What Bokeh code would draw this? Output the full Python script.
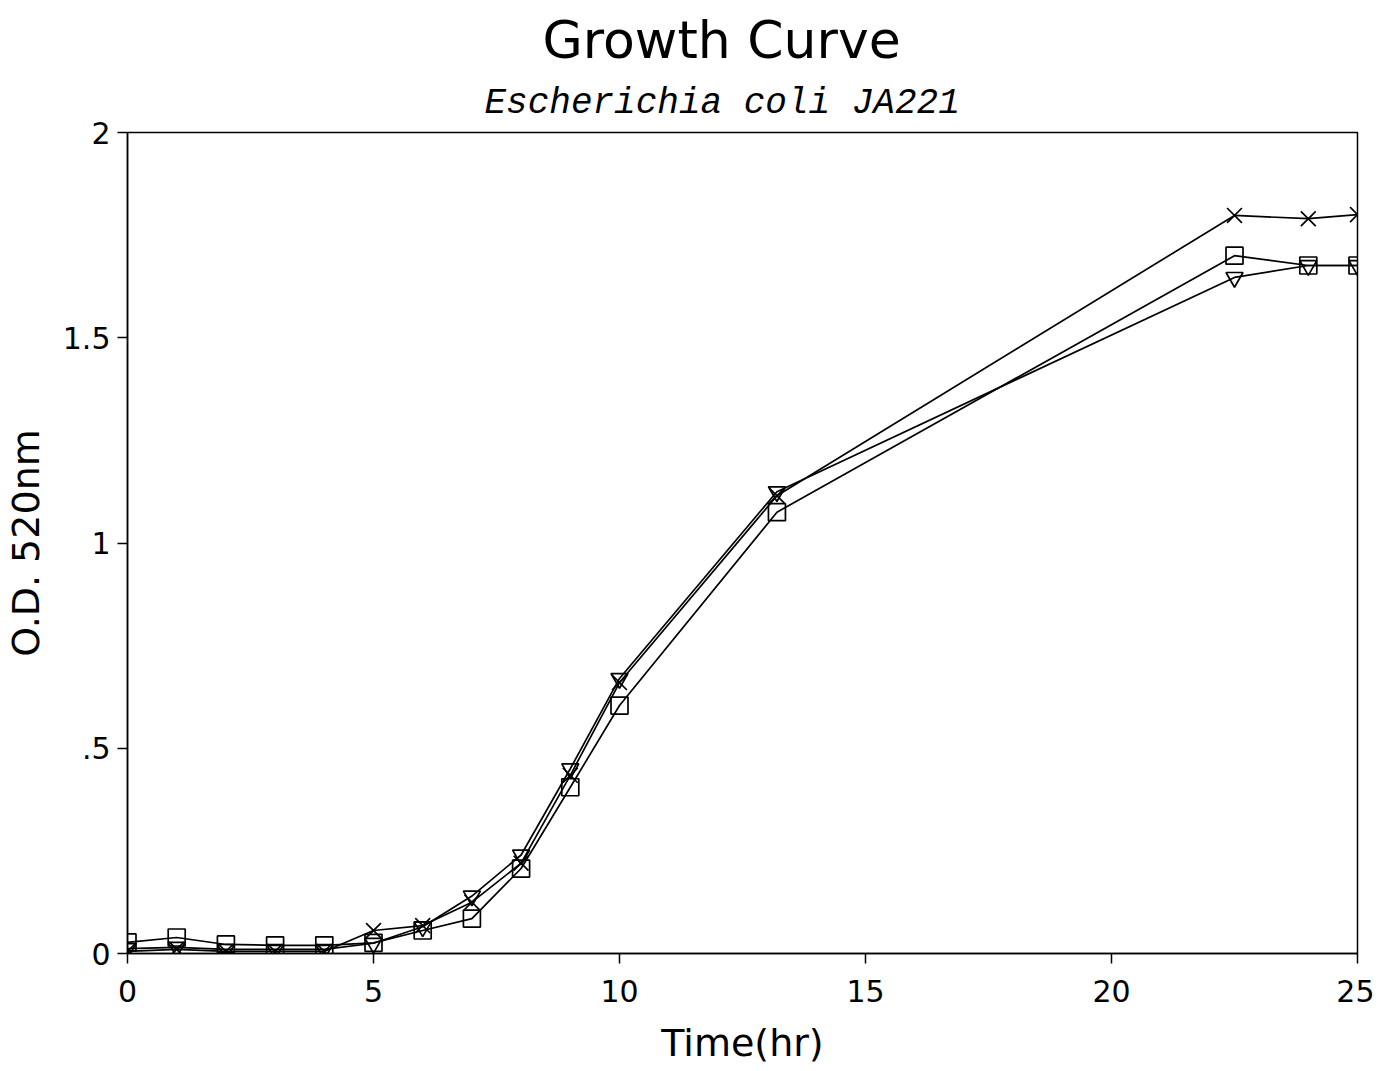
from bokeh.plotting import figure
from bokeh.models import FixedTicker, Title, Range1d
from bokeh.embed import file_html
from bokeh.resources import INLINE

time_hr = [0, 1, 2, 3, 4, 5, 6, 7, 8, 9, 10, 13.2, 22.5, 24, 25]
od_square = [0.027, 0.039, 0.022, 0.020, 0.020, 0.026, 0.056, 0.085, 0.207, 0.405, 0.604, 1.075, 1.700, 1.676, 1.676]
od_triangle = [0.012, 0.015, 0.010, 0.010, 0.010, 0.025, 0.065, 0.140, 0.240, 0.450, 0.670, 1.125, 1.647, 1.676, 1.676]
od_cross = [0.005, 0.010, 0.005, 0.005, 0.005, 0.056, 0.068, 0.125, 0.220, 0.434, 0.660, 1.115, 1.798, 1.790, 1.800]

x_ticks = [0, 5, 10, 15, 20, 25]
y_ticks = [0, 0.5, 1, 1.5, 2]
y_tick_labels = {0: "0", 0.5: ".5", 1: "1", 1.5: "1.5", 2: "2"}

title_main = "Growth Curve"
title_sub = "Escherichia coli JA221"
x_label = "Time(hr)"
y_label = "O.D. 520nm"

p = figure(frame_width=1230, frame_height=821,
           x_range=Range1d(0, 25), y_range=Range1d(0, 2),
           output_backend="svg", toolbar_location=None,
           min_border_left=119, min_border_right=17,
           min_border_top=132, min_border_bottom=100,
           background_fill_color="white", border_fill_color="white")
p.grid.visible = False
p.outline_line_color = "black"
p.outline_line_width = 1.5

for ax in (p.xaxis[0], p.yaxis[0]):
    ax.axis_line_color = "black"
    ax.axis_line_width = 1.5
    ax.major_tick_line_width = 1.5
    ax.major_tick_in = 0
    ax.major_tick_out = 10
    ax.minor_tick_line_color = None
    ax.major_label_text_font = "DejaVu Sans"
    ax.major_label_text_font_size = "30px"
    ax.major_label_text_color = "black"
    ax.axis_label_text_font = "DejaVu Sans"
    ax.axis_label_text_font_size = "38px"
    ax.axis_label_text_font_style = "normal"
    ax.axis_label_text_color = "black"

p.xaxis.ticker = FixedTicker(ticks=x_ticks)
p.yaxis.ticker = FixedTicker(ticks=y_ticks)
p.yaxis.major_label_overrides = y_tick_labels
p.xaxis.axis_label = x_label
p.yaxis.axis_label = y_label
p.xaxis.major_label_standoff = 16
p.yaxis.major_label_standoff = 7
p.xaxis.axis_label_standoff = 16
p.yaxis.axis_label_standoff = 12

for ys, marker, size in ((od_square, "square", 17),
                         (od_triangle, "inverted_triangle", 17),
                         (od_cross, "x", 21)):
    p.line(time_hr, ys, line_color="black", line_width=1.7)
    p.scatter(time_hr, ys, marker=marker, size=size, fill_alpha=0,
              line_color="black", line_width=1.7)

p.add_layout(Title(text=title_sub, align="left", offset=357, standoff=17,
                   text_font="Liberation Mono", text_font_style="italic",
                   text_font_size="36px", text_color="black"), "above")
p.add_layout(Title(text=title_main, align="left", offset=415, standoff=6,
                   text_font="DejaVu Sans", text_font_style="normal",
                   text_font_size="52px", text_color="black"), "above")

open("out.html", "w").write(file_html(p, INLINE))
